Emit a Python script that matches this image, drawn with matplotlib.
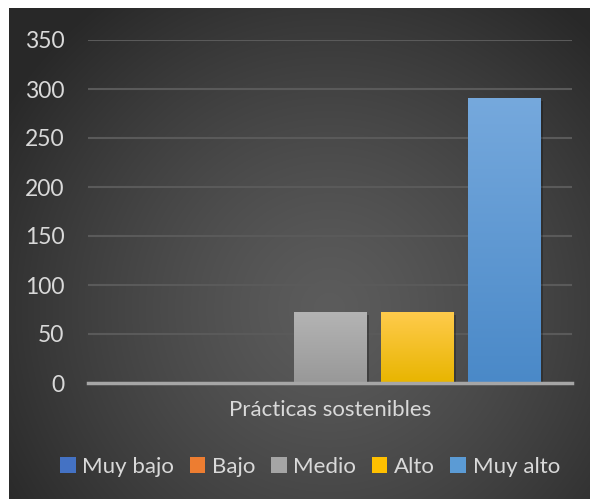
import numpy as np
import matplotlib.pyplot as plt
import matplotlib.colors as mcolors
from matplotlib.patches import Patch
import matplotlib.patheffects as pe

# ---------------- data ----------------
category = "Prácticas sostenibles"
levels = ["Muy bajo", "Bajo", "Medio", "Alto", "Muy alto"]
counts = [0, 0, 72, 72, 291]
colors = ["#4472c4", "#ed7d31", "#a5a5a5", "#ffc000", "#5b9bd5"]
yticks = [0, 50, 100, 150, 200, 250, 300, 350]

# top / bottom shade of each bar
grad_top = ["#6a90d6", "#f39a5e", "#b4b4b4", "#ffcb4c", "#76a9dd"]
grad_bot = ["#3c68b6", "#dd6f22", "#989898", "#e8b500", "#4a89c8"]

txt = "#d9d9d9"
plt.rcParams["font.family"] = ["Lato", "DejaVu Sans"]

fig = plt.figure(figsize=(5.9, 4.99), dpi=100, facecolor="white")

# dark radial background panel
bg = fig.add_axes([9 / 590, 0, 581 / 590, 491 / 499])
bg.set_axis_off()
yy, xx = np.mgrid[0:491, 0:581]
r = np.sqrt(((xx - 320) / 380.0) ** 2 + ((yy - 300) / 380.0) ** 2)
r = np.clip(r, 0, 1)
shade = 0.36 - 0.20 * r ** 1.3
bg.imshow(np.dstack([shade] * 3), aspect="auto", extent=[0, 1, 0, 1])
bg.set_xlim(0, 1)
bg.set_ylim(0, 1)

ax = fig.add_axes([88 / 590, 1 - 383 / 499, 484 / 590, 343 / 499])
ax.patch.set_alpha(0)

step = 0.18
width = 0.149
x = (np.arange(len(levels)) - 2) * step
bars = ax.bar(x, counts, width=width, color=colors, zorder=3)

for b, top, bot in zip(bars, grad_top, grad_bot):
    if b.get_height() <= 0:
        continue
    cmap = mcolors.LinearSegmentedColormap.from_list("g", [bot, top])
    grad = np.linspace(0, 1, 256).reshape(-1, 1)
    x0, y0 = b.get_x(), b.get_y()
    im = ax.imshow(grad, cmap=cmap, aspect="auto", origin="lower",
                   extent=[x0, x0 + b.get_width(), y0, y0 + b.get_height()],
                   zorder=3)
    im.set_clip_path(b)
    b.set_path_effects([pe.SimplePatchShadow(offset=(2, -2), shadow_rgbFace="black", alpha=0.25),
                        pe.Normal()])

ax.set_xlim(-0.5, 0.5)
ax.set_ylim(0, 350)
ax.set_yticks(yticks)
ax.set_xticks([0])
ax.set_xticklabels([category])
ax.tick_params(axis="y", length=0, pad=17, labelsize=16.5, labelcolor=txt)
ax.tick_params(axis="x", length=0, pad=12, labelsize=16, labelcolor=txt)
ax.grid(axis="y", color="#5a5a5a", linewidth=1.5, zorder=0)
for s in ["top", "right", "left"]:
    ax.spines[s].set_visible(False)
ax.spines["bottom"].set_color("#a6a6a6")
ax.spines["bottom"].set_linewidth(2.5)
ax.spines["bottom"].set_zorder(4)

handles = [Patch(facecolor=c, label=l) for c, l in zip(colors, levels)]
fig.legend(handles=handles, loc="center", bbox_to_anchor=(310 / 590, 1 - 467 / 499),
           ncol=5, frameon=False, fontsize=16, labelcolor=txt,
           handlelength=0.7, handleheight=0.7, handletextpad=0.3, columnspacing=0.7)

plt.savefig("out.png", dpi=100, facecolor="white")
